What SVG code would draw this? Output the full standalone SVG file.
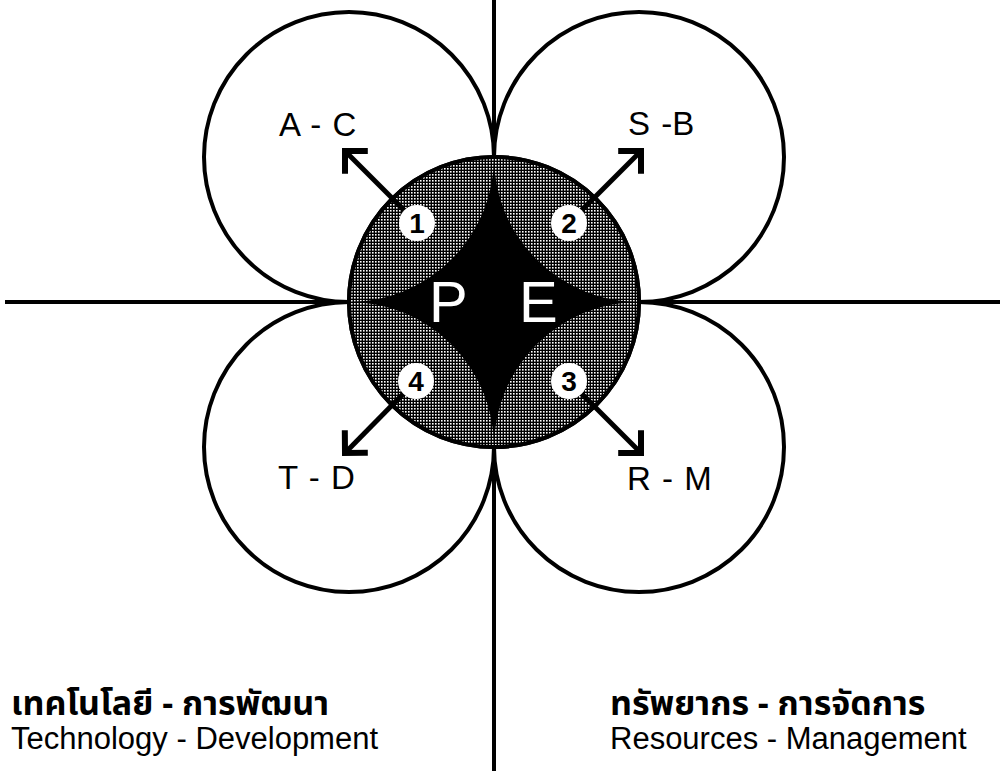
<svg xmlns="http://www.w3.org/2000/svg" width="1005" height="771" viewBox="0 0 1005 771">
<style>
.ln{stroke:#000;stroke-width:4;fill:none}
.oc{fill:#fff;stroke:#000;stroke-width:4}
.lbl{font-family:"Liberation Sans",Arial,sans-serif;font-size:33px;fill:#000;word-spacing:2px}
.num{font-family:"Liberation Sans",Arial,sans-serif;font-size:28px;font-weight:bold;fill:#000;text-anchor:middle}
.big{font-family:"Liberation Sans",Arial,sans-serif;font-size:58px;fill:#fff}
.th{font-family:"Noto Sans Thai","Noto Sans","DejaVu Sans",sans-serif;font-size:34px;font-weight:bold;fill:#000}
.en{font-family:"Liberation Sans",Arial,sans-serif;font-size:31px;fill:#000}
.arr{stroke:#000;stroke-width:5;fill:none;marker-end:url(#ah)}
</style>
<defs>
<pattern id="dots" width="3" height="3" patternUnits="userSpaceOnUse">
<rect width="3" height="3" fill="#000"/>
<rect width="1.6" height="1.6" fill="#fff"/>
</pattern>
<clipPath id="cc"><circle cx="494" cy="302" r="145"/></clipPath>
<marker id="ah" markerUnits="userSpaceOnUse" markerWidth="40" markerHeight="40" refX="0" refY="0" viewBox="-20 -20 40 40" orient="auto" overflow="visible">
<path d="M-14,-14 L0,0 L-14,14" fill="none" stroke="#000" stroke-width="6" stroke-linejoin="miter" stroke-linecap="square"/>
</marker>
</defs>
<g id="connectors">
<line class="ln" x1="5" y1="302" x2="1000" y2="302"/>
<line class="ln" x1="494" y1="0" x2="494" y2="771"/>
</g>
<g id="outer-tl"><circle class="oc" cx="349" cy="157" r="145"/></g>
<g id="outer-tr"><circle class="oc" cx="639" cy="157" r="145"/></g>
<g id="outer-bl"><circle class="oc" cx="349" cy="447" r="145"/></g>
<g id="outer-br"><circle class="oc" cx="639" cy="447" r="145"/></g>
<g id="center">
<circle cx="494" cy="302" r="145" fill="#000" stroke="#000" stroke-width="4"/>
<g clip-path="url(#cc)">
<circle cx="349" cy="157" r="145" fill="url(#dots)"/>
<circle cx="639" cy="157" r="145" fill="url(#dots)"/>
<circle cx="349" cy="447" r="145" fill="url(#dots)"/>
<circle cx="639" cy="447" r="145" fill="url(#dots)"/>
</g>
<circle cx="494" cy="302" r="145" fill="none" stroke="#000" stroke-width="4"/>
<text class="big" x="429" y="322">P</text>
<text class="big" x="519" y="322">E</text>
</g>
<g id="arrows">
<line class="arr" x1="405" y1="211" x2="345" y2="151"/>
<line class="arr" x1="581" y1="211" x2="641" y2="151"/>
<line class="arr" x1="581" y1="393" x2="641" y2="453"/>
<line class="arr" x1="404" y1="393" x2="345" y2="453"/>
</g>
<g id="n1"><circle cx="417" cy="223" r="18" fill="#fff"/><text class="num" x="417" y="233">1</text></g>
<g id="n2"><circle cx="569" cy="223" r="18" fill="#fff"/><text class="num" x="569" y="233">2</text></g>
<g id="n3"><circle cx="569" cy="381" r="18" fill="#fff"/><text class="num" x="569" y="391">3</text></g>
<g id="n4"><circle cx="416" cy="381" r="18" fill="#fff"/><text class="num" x="416" y="391">4</text></g>
<g id="labels">
<text class="lbl" x="279" y="136">A - C</text>
<text class="lbl" x="628" y="135">S -B</text>
<text class="lbl" x="278" y="489">T - D</text>
<text class="lbl" x="627" y="490">R - M</text>
</g>
<g id="legend-left">
<text class="th" x="11" y="715">เทคโนโลยี - การพัฒนา</text>
<text class="en" x="11" y="749">Technology - Development</text>
</g>
<g id="legend-right">
<text class="th" x="610" y="715">ทรัพยากร - การจัดการ</text>
<text class="en" x="610" y="749">Resources - Management</text>
</g>
</svg>
